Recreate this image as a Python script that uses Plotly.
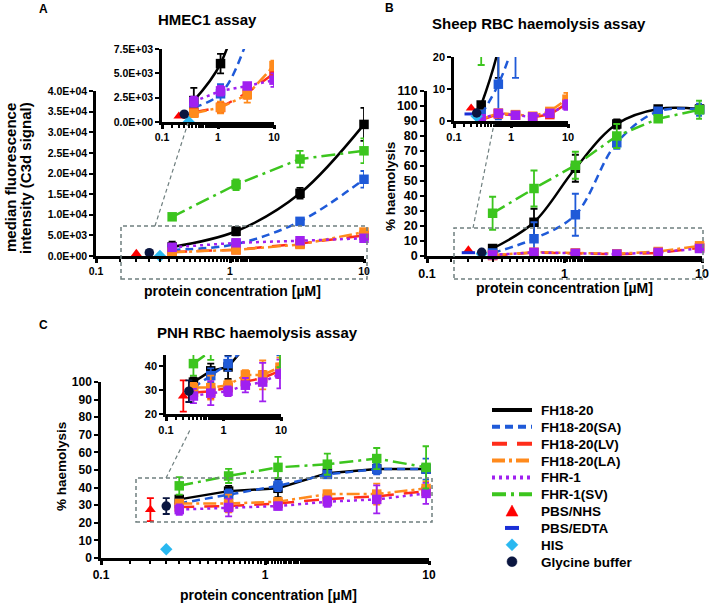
import plotly.graph_objects as go

W, H = 709, 604
def PX(x): return x / W
def PY(y): return 1 - y / H

FONT = "Liberation Sans, Arial, sans-serif"

# ---------------- data ----------------
series_names = ["FH18-20", "FH18-20(SA)", "FH18-20(LV)", "FH18-20(LA)", "FHR-1", "FHR-1(SV)"]
control_names = ["PBS/NHS", "PBS/EDTA", "HIS", "Glycine buffer"]

# Panel A: HMEC1 assay (median fluorescence, C3d)
conc_A = [0.37, 1.11, 3.33, 10]
A_FH = [2200, 6000, 15200, 31900];   A_FH_err = [1300, 1000, 1300, 4000]
A_SA = [1500, 2900, 8400, 18600];    A_SA_err = [300, 1000, 500, 2000]
A_LV = [1000, 1500, 3000, 5000];     A_LV_err = [300, 500, 600, 500]
A_LA = [900, 1500, 2800, 5800];      A_LA_err = [300, 600, 800, 500]
A_FHR1 = [2100, 3200, 3700, 4300];   A_FHR1_err = [500, 500, 300, 700]
A_SV = [9500, 17300, 23500, 25500];  A_SV_err = [400, 1300, 2000, 3000]
A_ctrl_x = [0.2, None, 0.3, 0.25]
A_ctrl_y = [600, None, 0, 800]
A_ctrl_err = [0, 0, 0, 0]

# Panel B: Sheep RBC haemolysis (%)
conc_BC = [0.3, 0.6, 1.2, 2.4, 4.8, 9.6]
B_FH = [5, 22.5, 58.5, 88, 98, 98];        B_FH_err = [1, 9, 9, 3, 2, 2]
B_SA = [2, 11.5, 27.5, 75.5, 96.5, 97.5];  B_SA_err = [1, 11, 14, 4, 2, 4]
B_LV = [0.3, 2.2, 1.8, 1.2, 2.0, 5.5];     B_LV_err = [0.5, 0.5, 0.5, 0.5, 0.5, 1.5]
B_LA = [0.5, 2.5, 2.0, 1.5, 3.0, 6.8];     B_LA_err = [0.5, 0.5, 0.5, 0.5, 0.8, 2]
B_FHR1 = [0.7, 2.4, 1.8, 1.3, 2.4, 5.0];   B_FHR1_err = [0.5, 0.5, 0.5, 0.5, 0.5, 1.5]
B_SV = [28.5, 45, 60.5, 80, 91.5, 97.5];   B_SV_err = [11, 12, 9, 8, 2, 6]
B_ctrl_x = [0.2, 0.2, 0.25, 0.25]
B_ctrl_y = [4, 2.2, 1.5, 2.5]
B_ctrl_err = [0, 0, 0, 0]

# Panel C: PNH RBC haemolysis (%)
C_FH = [33.3, 38, 39.6, 48.2, 50.6, 50.6];   C_FH_err = [2, 3, 5, 2, 2, 2]
C_SA = [31, 36, 41, 47.5, 50.5, 50.5];       C_SA_err = [2, 3, 3, 2, 3, 6]
C_LV = [29, 29.5, 31, 33.5, 35, 38];         C_LV_err = [2, 3, 2, 2, 3, 3]
C_LA = [31, 31, 32, 36.3, 36.3, 39.5];       C_LA_err = [2, 5, 2, 2, 6, 4]
C_FHR1 = [27.5, 28.7, 29.5, 32, 33.3, 36.7]; C_FHR1_err = [3, 5, 2, 3, 8, 6]
C_SV = [41, 46.6, 51.5, 53.3, 56.5, 51.5];   C_SV_err = [5, 4, 6, 6, 6, 12]
C_ctrl_x = [0.2, None, 0.25, 0.25]
C_ctrl_y = [27.5, None, 5, 29.5]
C_ctrl_err = [6.5, 0, 0, 4.5]

x_tickvals = [0.1, 1, 10]
x_ticktext = ["0.1", "1", "10"]
A_yticks = [0, 5000, 10000, 15000, 20000, 25000, 30000, 35000, 40000]
A_yticktext = ["0.0E+00", "5.0E+03", "1.0E+04", "1.5E+04", "2.0E+04", "2.5E+04", "3.0E+04", "3.5E+04", "4.0E+04"]
A_inset_yticks = [0, 2500, 5000, 7500]
A_inset_yticktext = ["0.0E+00", "2.5E+03", "5.0E+03", "7.5E+03"]

# ---------------- styles ----------------
colors = ["#000000", "#1f5ad8", "#ff2d1a", "#ff8a1c", "#a020f0", "#3cc51e"]
dashes = ["solid", "8px,5px", "15px,10px", "13px,4px,3px,4px", "3px,4px", "14px,5px,3px,5px"]
ctrl_colors = ["#ff0000", "#1a2fd6", "#29b8f0", "#0b1640"]
ctrl_symbols = ["triangle-up", "line-ew", "diamond", "circle"]

fig = go.Figure()

def add_panel(xa, ya, conc, vals, errs, smooth, ctrl_x, ctrl_y, ctrl_err, clip, lw=2.5, ms=9.5):
    for i in range(6):
        fig.add_trace(go.Scatter(
            x=conc, y=vals[i], xaxis=xa, yaxis=ya, mode="lines+markers",
            line=dict(color=colors[i], width=lw, dash=dashes[i],
                      shape="spline" if smooth[i] else "linear", smoothing=1.0),
            marker=dict(symbol="square", size=ms, color=colors[i]),
            error_y=dict(type="data", array=errs[i], color=colors[i], thickness=1.8, width=3.5),
            showlegend=False, cliponaxis=clip, hoverinfo="skip"))
    for j in range(4):
        if ctrl_x[j] is None:
            continue
        mk = dict(symbol=ctrl_symbols[j], size=ms, color=ctrl_colors[j])
        if ctrl_symbols[j] == "line-ew":
            mk = dict(symbol="line-ew", size=ms, line=dict(color=ctrl_colors[j], width=3))
        fig.add_trace(go.Scatter(
            x=[ctrl_x[j]], y=[ctrl_y[j]], xaxis=xa, yaxis=ya, mode="markers",
            marker=mk,
            error_y=dict(type="data", array=[ctrl_err[j]], color=ctrl_colors[j], thickness=1.8, width=3.5,
                         visible=ctrl_err[j] > 0),
            showlegend=False, cliponaxis=clip, hoverinfo="skip"))

A_vals = [A_FH, A_SA, A_LV, A_LA, A_FHR1, A_SV]
A_errs = [A_FH_err, A_SA_err, A_LV_err, A_LA_err, A_FHR1_err, A_SV_err]
B_vals = [B_FH, B_SA, B_LV, B_LA, B_FHR1, B_SV]
B_errs = [B_FH_err, B_SA_err, B_LV_err, B_LA_err, B_FHR1_err, B_SV_err]
C_vals = [C_FH, C_SA, C_LV, C_LA, C_FHR1, C_SV]
C_errs = [C_FH_err, C_SA_err, C_LV_err, C_LA_err, C_FHR1_err, C_SV_err]

smoothAB = [True, True, False, False, False, False]
smoothC = [False] * 6

add_panel("x", "y", conc_A, A_vals, A_errs, smoothAB, A_ctrl_x, A_ctrl_y, A_ctrl_err, False)
add_panel("x2", "y2", conc_A, A_vals, A_errs, smoothAB, A_ctrl_x, A_ctrl_y, A_ctrl_err, True)
add_panel("x3", "y3", conc_BC, B_vals, B_errs, smoothAB, B_ctrl_x, B_ctrl_y, B_ctrl_err, False)
add_panel("x4", "y4", conc_BC, B_vals, B_errs, smoothAB, B_ctrl_x, B_ctrl_y, B_ctrl_err, True)
add_panel("x5", "y5", conc_BC, C_vals, C_errs, smoothC, C_ctrl_x, C_ctrl_y, C_ctrl_err, False)
add_panel("x6", "y6", conc_BC, C_vals, C_errs, smoothC, C_ctrl_x, C_ctrl_y, C_ctrl_err, True)

def xaxis_cfg(x0, x1, anchor, fs):
    return dict(type="log", range=[-1, 1], domain=[PX(x0), PX(x1)], anchor=anchor,
                showline=True, linewidth=2.5, linecolor="black", mirror=False, automargin=False,
                ticks="outside", ticklen=4, tickwidth=2.5, tickcolor="black",
                tickvals=x_tickvals, ticktext=x_ticktext, showgrid=False, zeroline=False,
                tickfont=dict(family=FONT, size=fs, color="black", weight="bold"),
                minor=dict(ticks="outside", ticklen=3, tickwidth=1.5, tickcolor="black", showgrid=False),
                fixedrange=True)

def yaxis_cfg(y_top, y_bot, anchor, fs, rng, tickvals, ticktext=None):
    d = dict(range=rng, domain=[PY(y_bot), PY(y_top)], anchor=anchor, automargin=False,
             showline=True, linewidth=2.5, linecolor="black",
             ticks="outside", ticklen=4, tickwidth=2, tickcolor="black",
             tickvals=tickvals, showgrid=False, zeroline=False,
             tickfont=dict(family=FONT, size=fs, color="black", weight="bold"),
             fixedrange=True)
    if ticktext is not None:
        d["ticktext"] = ticktext
    return d

fig.update_layout(
    xaxis=xaxis_cfg(96, 364, "y", 10.5),
    yaxis=yaxis_cfg(91, 256, "x", 10.5, [0, 40000], A_yticks, A_yticktext),
    xaxis2=xaxis_cfg(162, 274, "y2", 10.5),
    yaxis2=yaxis_cfg(49, 122, "x2", 10.5, [0, 7500], A_inset_yticks, A_inset_yticktext),
    xaxis3=xaxis_cfg(427, 702, "y3", 12.5),
    yaxis3=yaxis_cfg(91, 256, "x3", 12.5, [0, 110], list(range(0, 111, 10))),
    xaxis4=xaxis_cfg(454, 568, "y4", 11),
    yaxis4=yaxis_cfg(57, 121, "x4", 11, [0, 20], [0, 10, 20]),
    xaxis5=xaxis_cfg(101, 429, "y5", 12),
    yaxis5=yaxis_cfg(382, 558, "x5", 12, [0, 100], list(range(0, 101, 10))),
    xaxis6=xaxis_cfg(166, 281, "y6", 11),
    yaxis6=yaxis_cfg(355, 414, "x6", 11, [20, 44.6], [20, 30, 40]),
)

annots = []
def txt(x, y, s, size, angle=0, xanchor="center", color="black"):
    annots.append(dict(x=PX(x), y=PY(y), xref="paper", yref="paper", text=s, showarrow=False,
                       xanchor=xanchor, yanchor="middle", textangle=angle,
                       font=dict(family=FONT, size=size, color=color, weight="bold")))

txt(43, 9, "A", 12)
txt(389, 8, "B", 12)
txt(43, 325, "C", 12)
txt(207, 19.5, "HMEC1 assay", 15)
txt(539, 24, "Sheep RBC haemolysis assay", 15)
txt(257, 332, "PNH RBC haemolysis assay", 15)
txt(232, 291, "protein concentration [µM]", 14)
txt(564, 287.5, "protein concentration [µM]", 14)
txt(268, 595, "protein concentration [µM]", 14)
txt(10, 178, "median fluorescence", 15, -90)
txt(25, 178, "intensity (C3d signal)", 15, -90)
txt(390, 187, "% haemolysis", 13.5, -90)
txt(61, 467, "% haemolysis", 13.5, -90)

shapes = []
GREY = "#6f7f7f"
def rect(x0, y0, x1, y1):
    shapes.append(dict(type="rect", xref="paper", yref="paper", x0=PX(x0), x1=PX(x1), y0=PY(y1), y1=PY(y0),
                       line=dict(color=GREY, width=1.5, dash="4px,3px"), layer="above"))
def seg(x0, y0, x1, y1, color=GREY, width=1.2, dash="4px,3px"):
    shapes.append(dict(type="line", xref="paper", yref="paper", x0=PX(x0), x1=PX(x1), y0=PY(y0), y1=PY(y1),
                       line=dict(color=color, width=width, dash=dash), layer="above"))

rect(121, 226, 367, 279); seg(155, 226, 188, 123)
rect(454, 228, 703, 279); seg(473, 228, 494, 124)
rect(136, 478, 432, 522); seg(166, 478, 191, 428)

# ---------------- legend (drawn manually) ----------------
LEG_X0, LEG_X1, LEG_TX = 492, 532, 539
LEG_Y0, LEG_DY = 410, 16.85
legend_names = series_names + control_names
for k, name in enumerate(legend_names):
    yk = LEG_Y0 + LEG_DY * k
    txt(LEG_TX, yk + 0.5, name, 13.5, xanchor="left")
    if k < 6:
        seg(LEG_X0, yk, LEG_X1, yk, color=colors[k], width=4, dash=dashes[k])
    else:
        j = k - 6
        cx = 512
        c = ctrl_colors[j]
        if ctrl_symbols[j] == "triangle-up":
            path = "M {} {} L {} {} L {} {} Z".format(PX(cx - 6), PY(yk + 5), PX(cx + 6), PY(yk + 5), PX(cx), PY(yk - 6))
            shapes.append(dict(type="path", xref="paper", yref="paper", path=path,
                               fillcolor=c, line=dict(color=c, width=0.5)))
        elif ctrl_symbols[j] == "line-ew":
            seg(cx - 7, yk, cx + 7, yk, color=c, width=4, dash="solid")
        elif ctrl_symbols[j] == "diamond":
            path = "M {} {} L {} {} L {} {} L {} {} Z".format(PX(cx), PY(yk - 6), PX(cx + 6), PY(yk),
                                                          PX(cx), PY(yk + 6), PX(cx - 6), PY(yk))
            shapes.append(dict(type="path", xref="paper", yref="paper", path=path,
                               fillcolor=c, line=dict(color=c, width=0.5)))
        else:
            shapes.append(dict(type="circle", xref="paper", yref="paper",
                               x0=PX(cx - 5), x1=PX(cx + 5), y0=PY(yk + 5), y1=PY(yk - 5),
                               fillcolor=c, line=dict(color=c, width=0.5)))

fig.update_layout(
    width=W, height=H, margin=dict(l=0, r=0, t=0, b=0),
    paper_bgcolor="white", plot_bgcolor="rgba(0,0,0,0)",
    annotations=annots, shapes=shapes,
    showlegend=False,
)

fig.write_html("out.html", config={"displayModeBar": False},
               post_script="document.body.style.margin='0px';")
